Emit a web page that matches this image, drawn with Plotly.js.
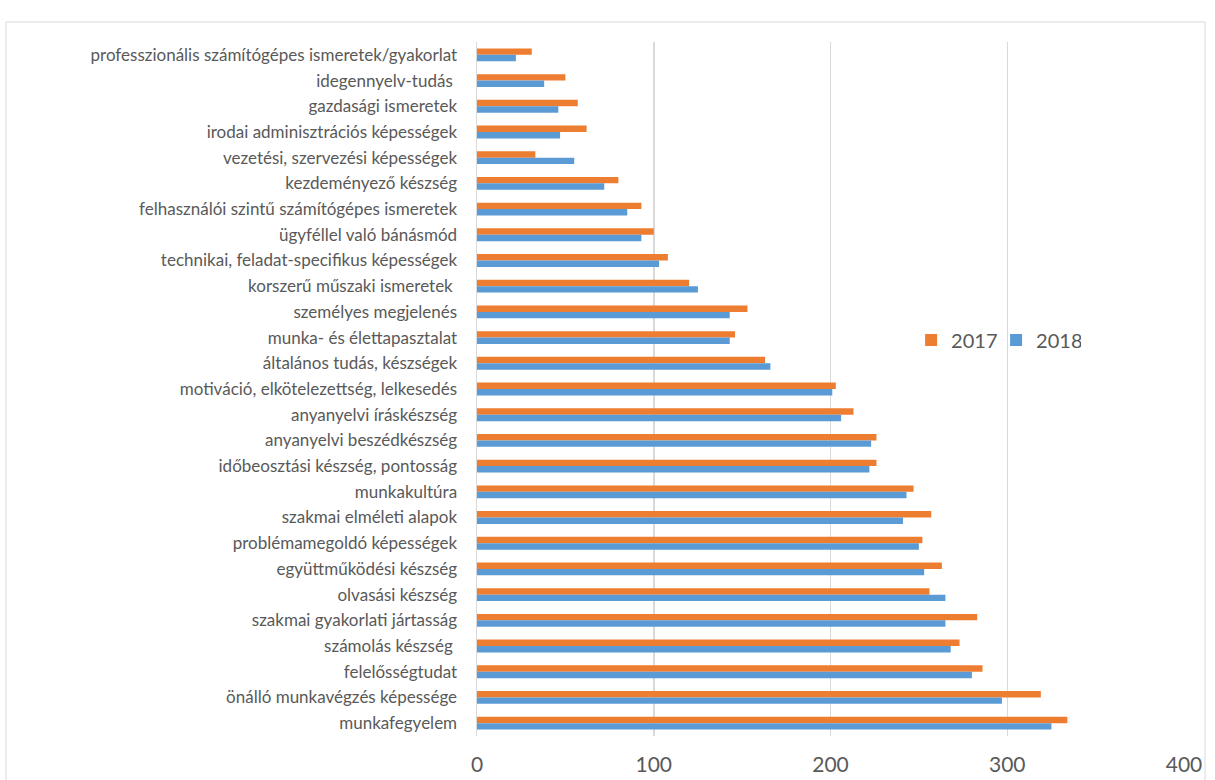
<!DOCTYPE html>
<html>
<head>
<meta charset="utf-8">
<script src="https://cdn.plot.ly/plotly-3.0.1.min.js"></script>
<style>
  html, body { margin: 0; padding: 0; background: #ffffff; }
  #chart { width: 1215px; height: 780px; }
</style>
</head>
<body>
<div id="chart"></div>
<script>
const categories = [
  "professzionális számítógépes ismeretek/gyakorlat",
  "idegennyelv-tudás\u00a0",
  "gazdasági ismeretek",
  "irodai adminisztrációs képességek",
  "vezetési, szervezési képességek",
  "kezdeményező készség",
  "felhasználói szintű számítógépes ismeretek",
  "ügyféllel való bánásmód",
  "technikai, feladat-specifikus képességek",
  "korszerű műszaki ismeretek\u00a0",
  "személyes megjelenés",
  "munka- és élettapasztalat",
  "általános tudás, készségek",
  "motiváció, elkötelezettség, lelkesedés",
  "anyanyelvi íráskészség",
  "anyanyelvi beszédkészség",
  "időbeosztási készség, pontosság",
  "munkakultúra",
  "szakmai elméleti alapok",
  "problémamegoldó képességek",
  "együttműködési készség",
  "olvasási készség",
  "szakmai gyakorlati jártasság",
  "számolás készség\u00a0",
  "felelősségtudat",
  "önálló munkavégzés képessége",
  "munkafegyelem"
];

const values2017 = [31, 50, 57, 62, 33, 80, 93, 100, 108, 120, 153, 146, 163, 203, 213, 226, 226, 247, 257, 252, 263, 256, 283, 273, 286, 319, 334];
const values2018 = [22, 38, 46, 47, 55, 72, 85, 93, 103, 125, 143, 143, 166, 201, 206, 223, 222, 243, 241, 250, 253, 265, 265, 268, 280, 297, 325];

const seriesNames = ["2017", "2018"];
const xTickValues = [0, 100, 200, 300, 400];

const textColor = "#595959";
const gridColor = "#D9D9D9";
const fontFamily = "Lato, 'Open Sans', sans-serif";

const traces = [
  {
    type: "bar",
    orientation: "h",
    name: seriesNames[0],
    y: categories,
    x: values2017,
    marker: { color: "#ED7D31", line: { width: 0 } },
    hoverinfo: "x+y+name"
  },
  {
    type: "bar",
    orientation: "h",
    name: seriesNames[1],
    y: categories,
    x: values2018,
    marker: { color: "#5B9BD5", line: { width: 0 } },
    hoverinfo: "x+y+name"
  }
];

const layout = {
  width: 1215,
  height: 780,
  margin: { l: 477, r: 31, t: 42, b: 44, pad: 0 },
  paper_bgcolor: "#ffffff",
  plot_bgcolor: "#ffffff",
  font: { family: fontFamily, color: textColor, size: 17 },
  barmode: "group",
  bargap: 0.5,
  bargroupgap: 0,
  showlegend: true,
  legend: {
    orientation: "h",
    x: 0.614,
    xanchor: "left",
    y: 0.5706,
    yanchor: "middle",
    bgcolor: "rgba(0,0,0,0)",
    borderwidth: 0,
    entrywidth: 40,
    entrywidthmode: "pixels",
    font: { size: 20, color: textColor, family: fontFamily },
    traceorder: "normal"
  },
  xaxis: {
    range: [0, 400],
    tickvals: xTickValues,
    ticktext: xTickValues.map(String),
    showgrid: true,
    gridcolor: gridColor,
    gridwidth: 1.5,
    zeroline: false,
    showline: false,
    ticks: "",
    ticklabelstandoff: 14,
    tickfont: { size: 21, color: textColor, family: fontFamily },
    fixedrange: true
  },
  yaxis: {
    type: "category",
    autorange: "reversed",
    showgrid: false,
    zeroline: false,
    showline: true,
    linecolor: gridColor,
    linewidth: 1.5,
    ticks: "",
    ticklabelstandoff: 15,
    tickfont: { size: 17, color: textColor, family: fontFamily },
    fixedrange: true
  },
  shapes: [
    {
      type: "rect",
      xref: "paper",
      yref: "paper",
      x0: (6 - 477) / 707,
      x1: (1205 - 477) / 707,
      y0: -0.2,
      y1: (736 - 22) / 694,
      line: { color: "#D9D9D9", width: 1 },
      fillcolor: "rgba(0,0,0,0)",
      layer: "below"
    }
  ]
};

Plotly.newPlot("chart", traces, layout, { displayModeBar: false, staticPlot: true });
</script>
</body>
</html>
